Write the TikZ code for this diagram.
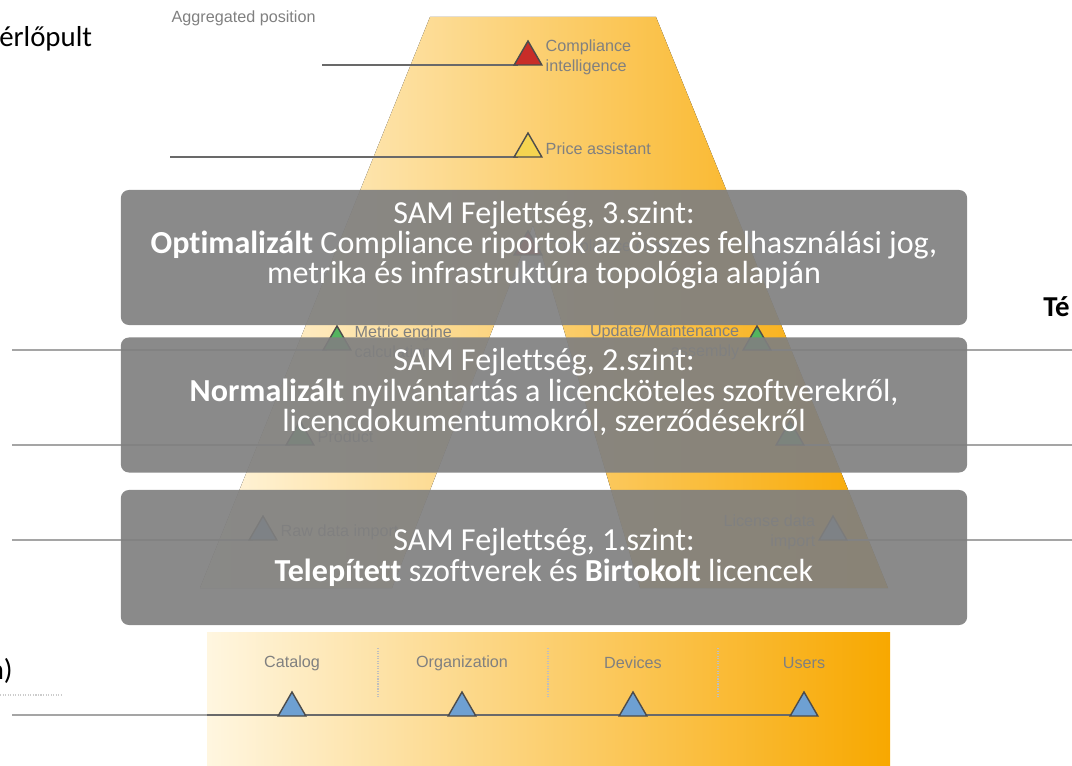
\documentclass[tikz,border=0pt]{standalone}
\usepackage{fontspec}
\setmainfont{Carlito}[Ligatures=NoCommon]
\newfontfamily\imgfont{Liberation Sans}
\usepackage{tikz}
\usetikzlibrary{shapes.geometric, positioning, calc, backgrounds}
\definecolor{boxgray}{RGB}{128,128,128}
\definecolor{paleamber}{RGB}{255,246,224}
\definecolor{deepamber}{RGB}{248,168,0}
\definecolor{guidegray}{RGB}{165,165,165}
\definecolor{inkgray}{RGB}{105,105,105}
\definecolor{labelgray}{RGB}{128,128,128}
\definecolor{trired}{RGB}{200,45,40}
\definecolor{triyellow}{RGB}{245,212,80}
\definecolor{trigreen}{RGB}{85,180,95}
\definecolor{triblue}{RGB}{110,160,210}

\begin{document}
\begin{tikzpicture}[
    x=0.025cm, y=-0.025cm,
    level/.style={rectangle, rounded corners=0.2cm, fill=boxgray, fill opacity=0.92, text opacity=1, text=white, minimum width=21.15cm, minimum height=3.375cm, align=center, font=\fontsize{22.8}{21.5}\selectfont},
    tri/.style={regular polygon, regular polygon sides=3, minimum size=0.8cm, inner sep=0pt, draw=black!70, line width=1pt},
    lbl/.style={font=\imgfont\fontsize{11.5}{14}\selectfont, text=labelgray, inner sep=1pt},
    guide/.style={guidegray, line width=2pt},
    inner/.style={inkgray, line width=1.6pt},
    slide/.style={font=\fontsize{20.5}{24}\selectfont, text=black, inner sep=0pt}
]
\useasboundingbox (0,0) rectangle (1072,766);
\clip (0,0) rectangle (1072,766);

% Guide ends
\coordinate (gci) at (322,65);
\coordinate (gpa) at (170,157);
\coordinate (gl1) at (12,350);
\coordinate (gr1) at (1072,350);
\coordinate (gl2) at (12,445);
\coordinate (gr2) at (1072,445);
\coordinate (gl3) at (12,540);
\coordinate (gr3) at (1072,540);
\coordinate (gbase) at (12,715);
\coordinate (gedge) at (207,715);

% Markers
\node[tri, fill=trired] (ci) at (528,57) {};
\node[tri, fill=triyellow] (pa) at (528,149) {};
\node[tri, fill=trired] (cc) at (528,247) {};
\node[tri, fill=trigreen] (metric) at (337,342) {};
\node[tri, fill=trigreen] (update) at (757,342) {};
\node[tri, fill=trigreen] (product) at (300,437) {};
\node[tri, fill=trigreen] (licinv) at (790,437) {};
\node[tri, fill=triblue] (raw) at (263,532) {};
\node[tri, fill=triblue] (licdata) at (833,532) {};
\node[tri, fill=triblue] (catalog) at (292,708) {};
\node[tri, fill=triblue] (orgn) at (462,708) {};
\node[tri, fill=triblue] (devices) at (633,708) {};
\node[tri, fill=triblue] (users) at (804,708) {};

% Pyramid and guide lines
\begin{pgfonlayer}{background}
\fill[left color=paleamber, right color=deepamber] (430,17) -- (656,17) -- (888,588) -- (640,588) -- (533,225) -- (392,588) -- (200,588) -- cycle;
\fill[left color=paleamber, right color=deepamber] (207,632) rectangle (890,770);
\foreach \sx in {378,548,718}
    \draw[black!25, densely dotted, line width=0.8pt] (\sx,648) -- (\sx,698);
\draw[inner] (gci) -- (gci -| ci.west);
\draw[inner] (gpa) -- (gpa -| pa.west);
\draw[guide] (gl1) -- (gl1 -| metric.west);
\draw[guide] (gr1) -- (gr1 -| update.east);
\draw[guide] (gl2) -- (gl2 -| product.west);
\draw[guide] (gr2) -- (gr2 -| licinv.east);
\draw[guide] (gl3) -- (gl3 -| raw.west);
\draw[guide] (gr3) -- (gr3 -| licdata.east);
\draw[guide] (gbase) -- (gedge);
\draw[inner] (gedge) -- (gedge -| users.west);
\end{pgfonlayer}

% Picture labels
\node[lbl, anchor=west] (aggr) at (170,18) {Aggregated position};
\node[lbl, align=left, right=0.15cm of ci] (cilbl) {Compliance\\intelligence};
\node[lbl, right=0.15cm of pa] (palbl) {Price assistant};
\node[lbl, right=0.15cm of cc] (cclbl) {Compliance check};
\node[lbl, align=left, right=0.15cm of metric] (melbl) {Metric engine\\calculation};
\node[lbl, align=right, left=0.15cm of update] (umlbl) {Update/Maintenance\\assembly};
\node[lbl, right=0.15cm of product] (prlbl) {Product};
\node[lbl, right=0.15cm of raw] (rdlbl) {Raw data import};
\node[lbl, align=right, left=0.15cm of licdata] (ldlbl) {License data\\import};
\node[lbl] (catlbl) at (292,663) {Catalog};
\node[lbl] (orglbl) at (462,663) {Organization};
\node[lbl] (devlbl) at (633,663) {Devices};
\node[lbl] (usrlbl) at (804,663) {Users};

% Levels
\node[level] (lvl3) at (544,257.5) {SAM Fejlettség, 3.szint:\\\textbf{Optimalizált} Compliance riportok az összes felhasználási jog,\\metrika és infrastruktúra topológia alapján\\\mbox{}};
\node[level] (lvl2) at (544,405) {SAM Fejlettség, 2.szint:\\\textbf{Normalizált} nyilvántartás a licencköteles szoftverekről,\\licencdokumentumokról, szerződésekről\\\mbox{}};
\node[level] (lvl1) at (544,557.5) {SAM Fejlettség, 1.szint:\\\textbf{Telepített} szoftverek és \textbf{Birtokolt} licencek};

% Slide text
\node[slide, anchor=base west] (dash) at (-1,47) {érlőpult};
\node[slide, anchor=base west, font=\fontsize{20.5}{24}\selectfont\bfseries] (tech) at (1043,317) {Té};
\node[slide, anchor=base east] (paren) at (13,679) {n)};
\coordinate (dotl) at (0,695);
\coordinate (dotr) at (63,695);
\draw[black!20, densely dotted, line width=0.8pt] (dotl) -- (dotr);

\end{tikzpicture}
\end{document}
